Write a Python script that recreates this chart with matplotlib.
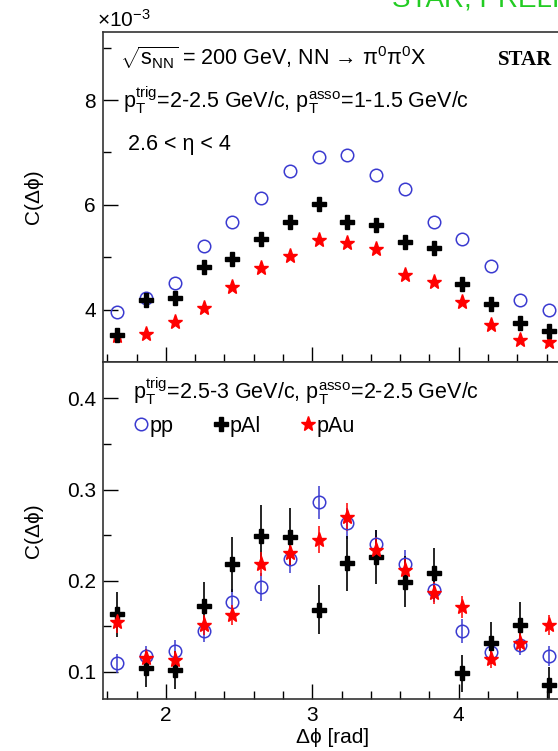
import matplotlib
matplotlib.use("Agg")
import matplotlib.pyplot as plt
from matplotlib.ticker import MultipleLocator
import numpy as np

plt.rcParams['font.family'] = ['Liberation Sans', 'DejaVu Sans']
plt.rcParams['mathtext.fontset'] = 'custom'
plt.rcParams['mathtext.rm'] = 'Liberation Sans'
plt.rcParams['mathtext.it'] = 'Liberation Sans:italic'
plt.rcParams['mathtext.bf'] = 'Liberation Sans:bold'

# delta phi bin centres (16 bins from pi/2 to 3pi/2)
dphi = [1.669, 1.865, 2.062, 2.258, 2.454, 2.651, 2.847, 3.043,
        3.240, 3.436, 3.632, 3.829, 4.025, 4.221, 4.418, 4.614]

# top panel, pT trig 2-2.5, asso 1-1.5 (x 1e-3)
pp_lo = [3.96, 4.22, 4.51, 5.22, 5.68, 6.14, 6.65, 6.91,
         6.95, 6.57, 6.30, 5.68, 5.35, 4.83, 4.19, 4.00]
pal_lo = [3.52, 4.19, 4.22, 4.81, 4.97, 5.35, 5.67, 6.02,
          5.67, 5.62, 5.30, 5.17, 4.48, 4.11, 3.75, 3.60]
pau_lo = [3.49, 3.54, 3.77, 4.04, 4.44, 4.79, 5.02, 5.32,
          5.28, 5.16, 4.67, 4.52, 4.14, 3.70, 3.42, 3.38]

# bottom panel, pT trig 2.5-3, asso 2-2.5
pp_hi = [0.109, 0.117, 0.123, 0.145, 0.177, 0.193, 0.224, 0.286,
         0.263, 0.240, 0.218, 0.190, 0.145, 0.122, 0.129, 0.117]
pp_hi_err = [0.010, 0.011, 0.012, 0.012, 0.014, 0.015, 0.016, 0.018,
             0.017, 0.016, 0.016, 0.014, 0.013, 0.011, 0.011, 0.011]
pal_hi = [0.163, 0.104, 0.102, 0.172, 0.218, 0.249, 0.248, 0.168,
          0.219, 0.226, 0.199, 0.208, 0.098, 0.131, 0.151, 0.085]
pal_hi_err = [0.025, 0.021, 0.021, 0.026, 0.030, 0.034, 0.032, 0.027,
              0.030, 0.030, 0.028, 0.028, 0.020, 0.023, 0.025, 0.020]
pau_hi = [0.155, 0.115, 0.113, 0.151, 0.162, 0.218, 0.230, 0.245,
          0.270, 0.234, 0.212, 0.186, 0.171, 0.114, 0.132, 0.151]
pau_hi_err = [0.012, 0.010, 0.010, 0.011, 0.011, 0.013, 0.014, 0.015,
              0.015, 0.014, 0.013, 0.012, 0.012, 0.010, 0.010, 0.011]

BLUE = '#3a3ad0'
RED = '#ff0000'
FS = 15
TFS = 15.5

fig = plt.figure(figsize=(5.58, 7.51), dpi=100)
W, H = 558, 751
left, right = 103, 563
ax1 = fig.add_axes([left / W, (H - 362) / H, (right - left) / W, 330 / H])
ax2 = fig.add_axes([left / W, (H - 699) / H, (right - left) / W, 337 / H])

# top panel
ax1.plot(dphi, pau_lo, ls='none', marker='*', ms=11, color=RED, mec=RED)
ax1.plot(dphi, pp_lo, ls='none', marker='o', ms=9, mfc='none', mec=BLUE, mew=1.1)
ax1.plot(dphi, pal_lo, ls='none', marker='P', ms=9.5, color='black')

# bottom panel
h_pp = ax2.errorbar(dphi, pp_hi, yerr=pp_hi_err, ls='none', marker='o', ms=9,
                    mfc='none', mec=BLUE, mew=1.1, ecolor=BLUE, elinewidth=1.1)
h_al = ax2.errorbar(dphi, pal_hi, yerr=pal_hi_err, ls='none', marker='P', ms=9.5,
                    color='black', ecolor='black', elinewidth=1.2)
h_au = ax2.errorbar(dphi, pau_hi, yerr=pau_hi_err, ls='none', marker='*', ms=11,
                    color=RED, mec=RED, ecolor=RED, elinewidth=1.1)

for ax in (ax1, ax2):
    ax.set_xlim(np.pi / 2, 3 * np.pi / 2)
    ax.xaxis.set_major_locator(MultipleLocator(1))
    ax.xaxis.set_minor_locator(MultipleLocator(0.2))
    ax.tick_params(which='both', direction='in', top=False, right=False,
                   labelsize=FS, width=1, pad=5)
    ax.tick_params(which='major', length=11)
    ax.tick_params(which='minor', length=6)
    for s in ax.spines.values():
        s.set_linewidth(1.2)
        s.set_color('#333333')
    ax.set_ylabel('C(Δϕ)', fontsize=FS)
    ax.yaxis.set_label_coords(-0.13, 0.5)

ax1.set_ylim(3.0, 9.3)
ax1.yaxis.set_major_locator(MultipleLocator(2))
ax1.yaxis.set_minor_locator(MultipleLocator(1))
ax1.tick_params(axis='x', labelbottom=False)

ax2.set_ylim(0.07, 0.44)
ax2.yaxis.set_major_locator(MultipleLocator(0.1))
ax2.yaxis.set_minor_locator(MultipleLocator(0.05))
ax2.set_xlabel('Δϕ [rad]', fontsize=FS, labelpad=2)
ax2.set_yticks([0.1, 0.2, 0.3, 0.4])
ax2.set_yticklabels(['0.1', '0.2', '0.3', '0.4'])

# annotations
ax1.text(-0.012, 1.005, r'$\times$10$^{-3}$', transform=ax1.transAxes,
         fontsize=FS, ha='left', va='bottom')
ax1.text(0.037, 0.90, r'$\sqrt{\mathregular{s_{NN}}}$ = 200 GeV, NN → π$^{0}$π$^{0}$X',
         transform=ax1.transAxes, fontsize=TFS, va='baseline')
ax1.text(0.043, 0.770, r'$\mathregular{p_{T}^{trig}}$=2-2.5 GeV/c, $\mathregular{p_{T}^{asso}}$=1-1.5 GeV/c',
         transform=ax1.transAxes, fontsize=TFS, va='baseline')
ax1.text(0.054, 0.642, '2.6 < η < 4', transform=ax1.transAxes,
         fontsize=TFS, va='baseline')
ax1.text(0.859, 0.90, 'STAR', transform=ax1.transAxes, fontsize=15,
         fontweight='bold', family='Liberation Serif', va='baseline')

ax2.text(0.065, 0.890, r'$\mathregular{p_{T}^{trig}}$=2.5-3 GeV/c, $\mathregular{p_{T}^{asso}}$=2-2.5 GeV/c',
         transform=ax2.transAxes, fontsize=TFS, va='baseline')
ax2.legend([h_pp.lines[0], h_al.lines[0], h_au.lines[0]], ['pp', 'pAl', 'pAu'],
           loc='upper left', bbox_to_anchor=(0.068, 0.84), ncol=3, frameon=False,
           fontsize=TFS, handlelength=0.6, handletextpad=0.1, columnspacing=1.9,
           borderpad=0, borderaxespad=0)

fig.text(392 / W, 1 - 7 / H, 'STAR, PRELIMINARY', color='#22cc22',
         fontsize=20, va='baseline', ha='left')

fig.savefig('out.png', dpi=100)
